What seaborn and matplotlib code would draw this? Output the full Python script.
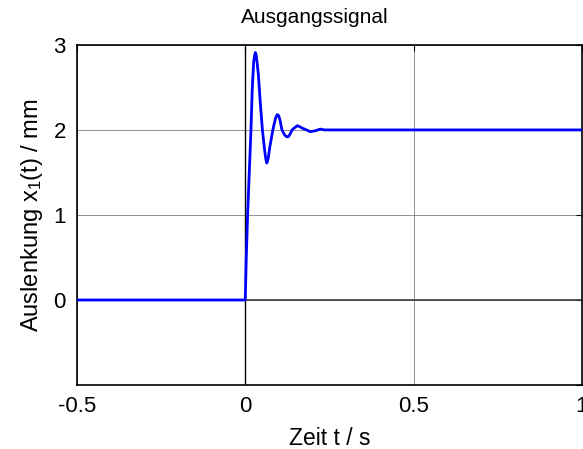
import matplotlib
matplotlib.use("Agg")
import matplotlib.pyplot as plt
import seaborn as sns
import pandas as pd

# Step response of the output signal, sampled points (time in s, displacement in mm)
zeit = [-0.5, 0.0, 0.003, 0.007, 0.012, 0.017, 0.021, 0.025, 0.028, 0.030,
        0.032, 0.035, 0.039, 0.045, 0.051, 0.057, 0.061, 0.064, 0.068, 0.073,
        0.082, 0.090, 0.095, 0.099, 0.103, 0.109, 0.117, 0.123, 0.128, 0.133,
        0.139, 0.148, 0.155, 0.161, 0.170, 0.182, 0.193, 0.208, 0.223, 0.235,
        0.25, 1.0]
auslenkung = [0.0, 0.0, 0.49, 1.0, 1.5, 2.0, 2.5, 2.8, 2.88, 2.91,
              2.89, 2.80, 2.65, 2.30, 2.00, 1.78, 1.66, 1.61, 1.66, 1.80,
              2.00, 2.14, 2.18, 2.17, 2.12, 2.00, 1.94, 1.92, 1.92, 1.95,
              2.00, 2.03, 2.05, 2.04, 2.02, 2.00, 1.98, 1.99, 2.01, 2.00,
              2.00, 2.00]

x_ticks = [-0.5, 0, 0.5, 1]
x_labels = ["-0.5", "0", "0.5", "1"]
y_ticks = [-1, 0, 1, 2, 3]
y_labels = ["", "0", "1", "2", "3"]

df = pd.DataFrame({"t": zeit, "x1": auslenkung})

sns.set_theme(style="white")
plt.rcParams["font.family"] = ["Liberation Sans", "DejaVu Sans"]
plt.rcParams["mathtext.fontset"] = "custom"
plt.rcParams["mathtext.rm"] = "Liberation Sans"
plt.rcParams["mathtext.it"] = "Liberation Sans"
plt.rcParams["text.color"] = "black"
plt.rcParams["axes.labelcolor"] = "black"

fig = plt.figure(figsize=(5.83, 4.49), dpi=100)
ax = fig.add_axes([0.132, 0.1425, 0.866, 0.7575])

ax.axhline(0, color="#404040", lw=1.2, zorder=1)
ax.axvline(0, color="black", lw=1.0, zorder=1)

sns.lineplot(data=df, x="t", y="x1", ax=ax, color="#0000ff", lw=2.0,
             sort=False, zorder=3)

ax.set_xlim(-0.5, 1.0)
ax.set_ylim(-1.0, 3.0)
ax.set_xticks(x_ticks)
ax.set_xticklabels(x_labels)
ax.set_yticks(y_ticks)
ax.set_yticklabels(y_labels)

ax.grid(True, color="#808080", lw=0.6)
ax.set_axisbelow(True)

for s in ax.spines.values():
    s.set_color("black")
    s.set_linewidth(1.2)

ax.tick_params(direction="in", length=4, width=0.8, colors="black",
               labelsize=16, top=True, right=True, pad=8)

ax.set_title("Ausgangssignal", fontsize=15, x=0.472, pad=16, color="black")
ax.set_xlabel("Zeit t / s", fontsize=16.5, labelpad=7)
ax.set_ylabel(r"Auslenkung x$_\mathregular{1}$(t) / mm", fontsize=17, labelpad=6)

fig.savefig("out.png", dpi=100, facecolor="white")
